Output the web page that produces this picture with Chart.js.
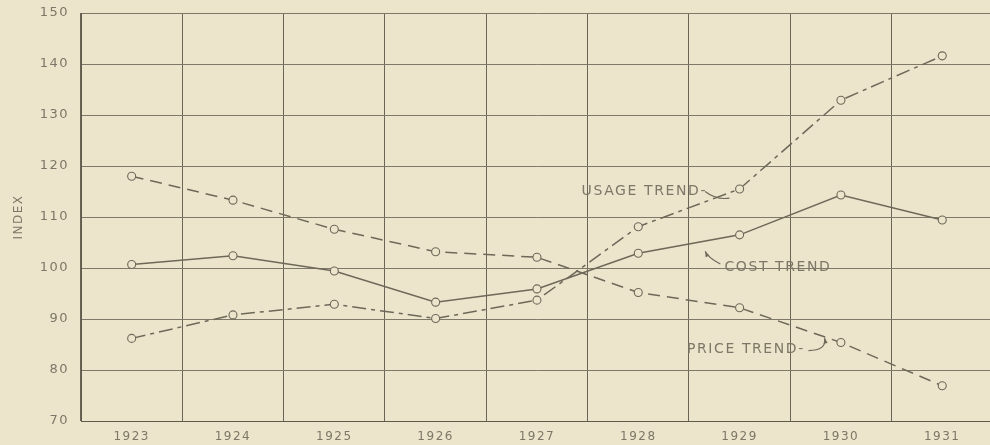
<!DOCTYPE html>
<html>
<head>
<meta charset="utf-8">
<script src="https://cdn.jsdelivr.net/npm/chart.js@4/dist/chart.umd.min.js"></script>
<style>
  html, body { margin: 0; padding: 0; background: #ede4cc; overflow: hidden; }
  #wrap { width: 998px; height: 445px; }
</style>
</head>
<body>
<div id="wrap"><canvas id="chart" width="998" height="445"></canvas></div>
<script>
// Chart data
const years = ['1923', '1924', '1925', '1926', '1927', '1928', '1929', '1930', '1931'];
const priceTrend = [118.0, 113.3, 107.6, 103.2, 102.1, 95.2, 92.2, 85.4, 76.9];
const costTrend = [100.7, 102.4, 99.4, 93.3, 95.9, 102.9, 106.5, 114.3, 109.4];
const usageTrend = [86.2, 90.8, 92.9, 90.1, 93.7, 108.1, 115.5, 132.9, 141.6];
const yTicks = [70, 80, 90, 100, 110, 120, 130, 140, 150];

const ink = '#6e6859';
const paper = '#ede4cc';
const textInk = '#7d7767';
const font = 'DejaVu Sans';

// hand-lettered labels with leader arrows, placed in data coordinates
const notes = [
    { text: 'USAGE TREND-', x: 4.44, y: 115.1, path: [[5.66, 115.0], [5.77, 113.3], [5.9, 113.7]], head: false },
    { text: 'COST TREND', x: 5.85, y: 100.2, path: [[5.81, 100.8], [5.69, 102.0], [5.66, 103.3]], head: true },
    { text: 'PRICE TREND-', x: 5.48, y: 84.0, path: [[6.68, 83.8], [6.86, 83.8], [6.84, 86.3]], head: true }
];

const background = {
    id: 'background',
    beforeDraw(chart) {
        const ctx = chart.ctx;
        ctx.save();
        ctx.fillStyle = paper;
        ctx.fillRect(0, 0, chart.width, chart.height);
        ctx.restore();
        // spaced-out lettering for the tick labels too
        ctx.letterSpacing = '1.5px';
    }
};

const annotations = {
    id: 'annotations',
    afterDraw(chart) {
        const ctx = chart.ctx;
        const xs = chart.scales.x;
        const ys = chart.scales.y;
        ctx.save();
        // axis title
        ctx.fillStyle = textInk;
        ctx.font = '12px "' + font + '"';
        ctx.letterSpacing = '1.5px';
        ctx.translate(19, (chart.chartArea.top + chart.chartArea.bottom) / 2);
        ctx.rotate(-Math.PI / 2);
        ctx.textAlign = 'center';
        ctx.textBaseline = 'middle';
        ctx.fillText('INDEX', 0, 0);
        ctx.restore();

        ctx.save();
        ctx.font = '14px "' + font + '"';
        ctx.letterSpacing = '1.6px';
        ctx.fillStyle = textInk;
        ctx.strokeStyle = ink;
        ctx.lineWidth = 1.1;
        ctx.textBaseline = 'middle';
        notes.forEach(n => {
            ctx.fillText(n.text, xs.getPixelForValue(n.x), ys.getPixelForValue(n.y));
            const pts = n.path.map(p => [xs.getPixelForValue(p[0]), ys.getPixelForValue(p[1])]);
            ctx.beginPath();
            ctx.moveTo(pts[0][0], pts[0][1]);
            ctx.quadraticCurveTo(pts[1][0], pts[1][1], pts[2][0], pts[2][1]);
            ctx.stroke();
            if (n.head) {
                const a = Math.atan2(pts[2][1] - pts[1][1], pts[2][0] - pts[1][0]);
                ctx.beginPath();
                ctx.moveTo(pts[2][0], pts[2][1]);
                ctx.lineTo(pts[2][0] - 6 * Math.cos(a - 0.35), pts[2][1] - 6 * Math.sin(a - 0.35));
                ctx.lineTo(pts[2][0] - 6 * Math.cos(a + 0.35), pts[2][1] - 6 * Math.sin(a + 0.35));
                ctx.closePath();
                ctx.fillStyle = ink;
                ctx.fill();
                ctx.fillStyle = textInk;
            }
        });
        ctx.restore();
    }
};

function series(label, data, dash) {
    return {
        label: label,
        data: data,
        borderColor: ink,
        borderWidth: 1.5,
        borderDash: dash,
        pointRadius: 4,
        pointBackgroundColor: paper,
        pointBorderColor: ink,
        pointBorderWidth: 1.1,
        tension: 0,
        fill: false
    };
}

new Chart(document.getElementById('chart'), {
    type: 'line',
    data: {
        labels: years,
        datasets: [
            series('Price Trend', priceTrend, [12, 7]),
            series('Cost Trend', costTrend, []),
            series('Usage Trend', usageTrend, [14, 5, 4, 5])
        ]
    },
    options: {
        responsive: false,
        animation: false,
        layout: { padding: { top: 13, right: 0 } },
        plugins: {
            legend: { display: false },
            tooltip: { enabled: false }
        },
        scales: {
            x: {
                offset: true,
                grid: { offset: true, color: '#6a6557', lineWidth: 1, drawTicks: false },
                border: { color: '#5f5a4c' },
                ticks: { color: textInk, font: { family: font, size: 12 }, padding: 9 },
                afterFit(scale) { scale.height = 24; }
            },
            y: {
                min: 70,
                max: 150,
                afterBuildTicks(scale) { scale.ticks = yTicks.map(v => ({ value: v })); },
                grid: { color: '#7d7868', lineWidth: 1, drawTicks: false },
                border: { color: '#5f5a4c' },
                ticks: { color: textInk, font: { family: font, size: 13 }, padding: 12 },
                afterFit(scale) {
                    scale.width = 81;
                    scale.paddingTop = 0;
                    scale.paddingBottom = 0;
                }
            }
        }
    },
    plugins: [background, annotations]
});
</script>
</body>
</html>
